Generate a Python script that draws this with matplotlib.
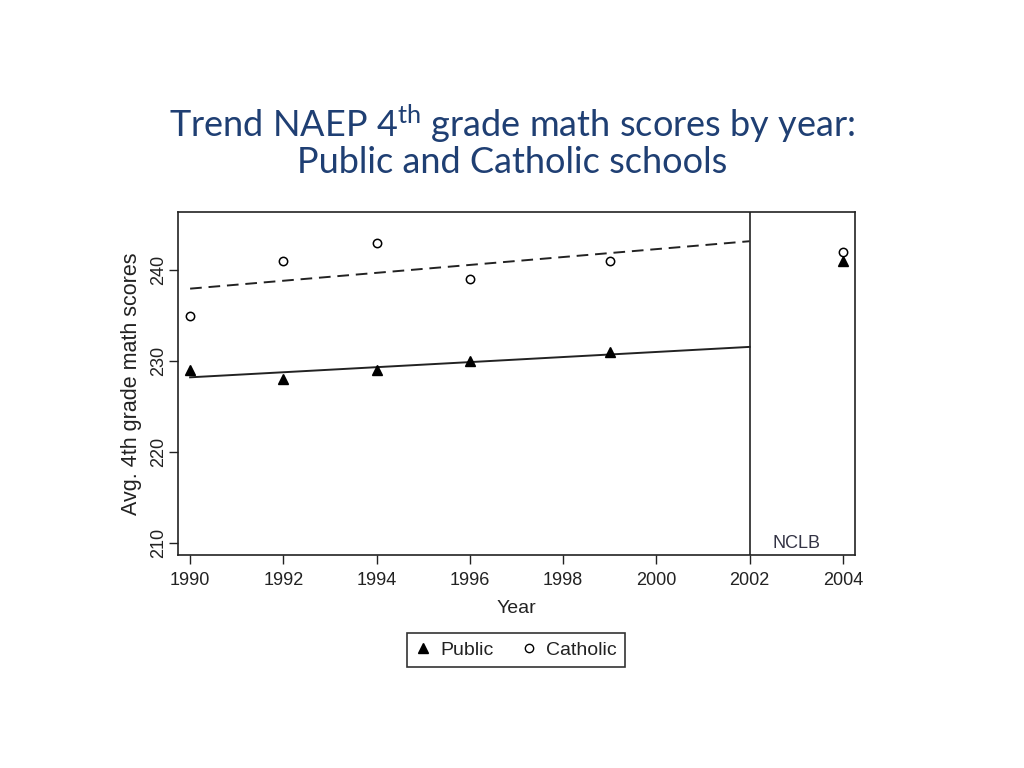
import numpy as np
import matplotlib
matplotlib.use("Agg")
import matplotlib.pyplot as plt
from matplotlib.lines import Line2D

years = [1990, 1992, 1994, 1996, 1999, 2004]
public = [229, 228, 229, 230, 231, 241]
catholic = [235, 241, 243, 239, 241, 242]
fit_end = 2002
xticks = [1990, 1992, 1994, 1996, 1998, 2000, 2002, 2004]
yticks = [210, 220, 230, 240]

plt.rcParams['mathtext.fontset'] = 'custom'
plt.rcParams['mathtext.rm'] = 'Lato'
plt.rcParams['mathtext.it'] = 'Lato'

SANS = ['Liberation Sans', 'DejaVu Sans']

fig = plt.figure(figsize=(10.24, 7.68), dpi=100)
ax = fig.add_axes([178/1024, 1-555/768, 677/1024, 343/768])

pre = np.array(years) < fit_end
yrs = np.array(years)
for vals, ls in ((public, '-'), (catholic, '--')):
    v = np.array(vals)
    b, a = np.polyfit(yrs[pre], v[pre], 1)
    xs = np.array([years[0], fit_end])
    if ls == '--':
        ax.plot(xs, a + b*xs, color='#222222', lw=1.4, ls='--', dashes=(6, 3.5))
    else:
        ax.plot(xs, a + b*xs, color='#222222', lw=1.4, ls='-')

ax.plot(years, catholic, 'o', ms=6, mfc='white', mec='black', mew=1.1, zorder=3)
ax.plot(years, public, '^', ms=7.5, mfc='black', mec='black', zorder=4)

ax.axvline(fit_end, color='#222222', lw=1.2)
ax.text(2003, 210, 'NCLB', ha='center', va='center', fontsize=13, family=SANS, color='#333344')

ax.set_xlim(1989.74, 2004.26)
ax.set_ylim(208.7, 246.4)
ax.set_xticks(xticks)
ax.set_yticks(yticks)
ax.tick_params(axis='both', labelsize=13, length=6.5, width=1.0, color='#222222', labelcolor='#222222')
ax.tick_params(axis='x', pad=6)
ax.tick_params(axis='y', pad=1.5)
for lab in ax.get_xticklabels():
    lab.set_family(SANS)
for lab in ax.get_yticklabels():
    lab.set_family(SANS)
    lab.set_rotation(90)
    lab.set_va('center')
for s in ax.spines.values():
    s.set_linewidth(1.2)
    s.set_color('#222222')

ax.set_xlabel('Year', fontsize=14, family=SANS, labelpad=8, color='#222222')
ax.set_ylabel('Avg. 4th grade math scores', fontsize=15.5, family=SANS, labelpad=6, color='#222222')

handles = [Line2D([], [], marker='^', ls='none', ms=7, mfc='black', mec='black'),
           Line2D([], [], marker='o', ls='none', ms=6, mfc='white', mec='black')]
leg = fig.legend(handles, ['Public', 'Catholic'], loc='center', bbox_to_anchor=(516/1024, 1-650/768),
                 ncol=2, frameon=True, fancybox=False, edgecolor='black', handlelength=0.8,
                 handletextpad=0.5, columnspacing=1.4, prop={'family': SANS, 'size': 14})
leg.get_frame().set_linewidth(1.2)
for t in leg.get_texts():
    t.set_color('#222222')

fig.text(512/1024, 1-137/768, r'Trend NAEP 4$^{\mathrm{th}}$ grade math scores by year:',
         ha='center', va='baseline', fontsize=26, family='Lato', color='#1F3F73')
fig.text(512/1024, 1-173/768, 'Public and Catholic schools',
         ha='center', va='baseline', fontsize=26, family='Lato', color='#1F3F73')

fig.savefig('out.png', dpi=100)
